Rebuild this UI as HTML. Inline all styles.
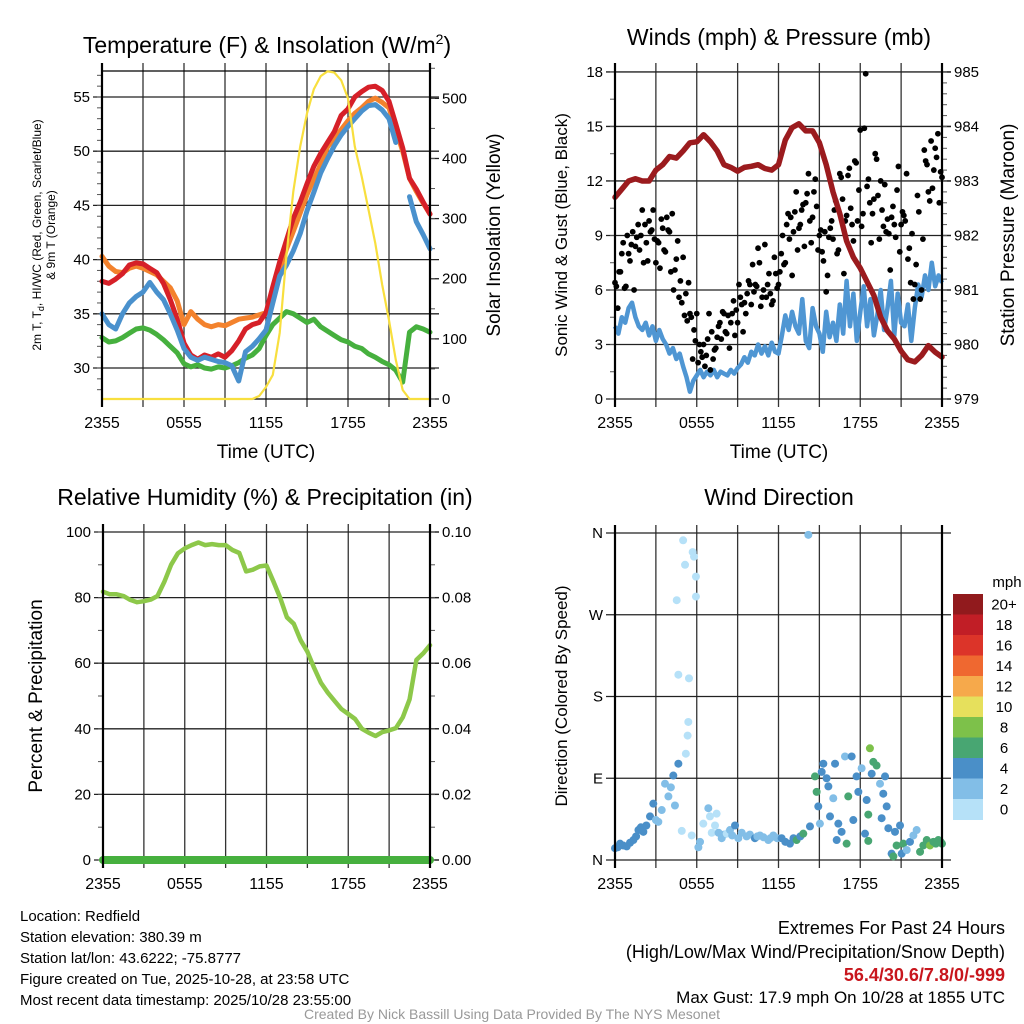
<!DOCTYPE html>
<html><head><meta charset="utf-8">
<style>
body{margin:0;background:#fff;}
svg{display:block;font-family:"Liberation Sans",sans-serif;}
</style></head>
<body>
<svg id="root" width="1024" height="1024" viewBox="0 0 1024 1024" xmlns="http://www.w3.org/2000/svg">
<rect width="1024" height="1024" fill="#fff"/>
<g id="g1"></g>
<g id="g2"></g>
<g id="g3"></g>
<g id="g4"></g>
<text x="267" y="53" font-size="23" text-anchor="middle">Temperature (F) &amp; Insolation (W/m<tspan font-size="14" dy="-9">2</tspan><tspan dy="9">)</tspan></text>
<text x="779" y="45" font-size="23" text-anchor="middle">Winds (mph) &amp; Pressure (mb)</text>
<text x="265" y="505" font-size="23" text-anchor="middle">Relative Humidity (%) &amp; Precipitation (in)</text>
<text x="779" y="505" font-size="23" text-anchor="middle">Wind Direction</text>
<text transform="translate(41,235) rotate(-90)" font-size="12" text-anchor="middle">2m T, T<tspan font-size="9" dy="3">d</tspan><tspan dy="-3">, HI/WC (Red, Green, Scarlet/Blue)</tspan></text>
<text transform="translate(55,235) rotate(-90)" font-size="12" text-anchor="middle">&amp; 9m T (Orange)</text>
<text transform="translate(500,235) rotate(-90)" font-size="19" text-anchor="middle">Solar Insolation (Yellow)</text>
<text transform="translate(567,235) rotate(-90)" font-size="17" text-anchor="middle">Sonic Wind &amp; Gust (Blue, Black)</text>
<text transform="translate(1014,235) rotate(-90)" font-size="19" text-anchor="middle">Station Pressure (Maroon)</text>
<text transform="translate(42,696) rotate(-90)" font-size="19" text-anchor="middle">Percent &amp; Precipitation</text>
<text transform="translate(567,696) rotate(-90)" font-size="17" text-anchor="middle">Direction (Colored By Speed)</text>
<text x="266" y="458" font-size="19" text-anchor="middle">Time (UTC)</text>
<text x="779" y="458" font-size="19" text-anchor="middle">Time (UTC)</text>
<g font-size="15">
<text x="20" y="921">Location: Redfield</text>
<text x="20" y="942">Station elevation: 380.39 m</text>
<text x="20" y="963">Station lat/lon: 43.6222; -75.8777</text>
<text x="20" y="984">Figure created on Tue, 2025-10-28, at 23:58 UTC</text>
<text x="20" y="1005">Most recent data timestamp: 2025/10/28 23:55:00</text>
</g>
<g font-size="18" text-anchor="end">
<text x="1005" y="934">Extremes For Past 24 Hours</text>
<text x="1005" y="958">(High/Low/Max Wind/Precipitation/Snow Depth)</text>
<text x="1005" y="981" fill="#c8161d" font-weight="bold">56.4/30.6/7.8/0/-999</text>
<text x="1005" y="1003" font-size="17">Max Gust: 17.9 mph On 10/28 at 1855 UTC</text>
</g>
<text x="512" y="1019" font-size="14" fill="#999" text-anchor="middle">Created By Nick Bassill Using Data Provided By The NYS Mesonet</text>
</svg>
<script>
// ---------- data ----------
const halfHours = [0,0.5,1,1.5,2,2.5,3,3.5,4,4.5,5,5.5,6,6.5,7,7.5,8,8.5,9,9.5,10,10.5,11,11.5,12,12.5,13,13.5,14,14.5,15,15.5,16,16.5,17,17.5,18,18.5,19,19.5,20,20.5,21,21.5,22,22.5,23,23.5,24];
const timeTickLabels = ["2355","0555","1155","1755","2355"];
const heatIndex = [38.0,37.8,38.2,38.7,39.5,39.7,39.6,39.2,38.8,37.8,36.3,34.5,32.3,31.2,30.8,31.2,31.0,31.3,31.0,31.6,32.5,33.6,34.0,34.2,35.1,37.5,39.8,41.8,43.8,45.3,47.0,48.6,49.8,50.8,51.8,53.3,53.9,55.0,55.5,55.9,56.0,55.6,54.6,52.5,50.3,47.5,46.5,45.3,44.2];
const temp9m = [40.3,39.4,38.9,38.8,39.2,39.4,39.2,38.9,38.6,38.0,37.4,36.2,34.0,35.2,34.5,34.0,33.8,34.0,33.9,34.2,34.5,34.6,34.7,34.9,35.1,37.0,39.0,41.0,42.6,44.3,46.0,47.4,48.8,50.4,51.2,52.0,52.8,53.5,54.0,54.6,54.9,54.5,54.0,52.0,50.0,47.5,46.3,45.2,44.2];
const temp2m = [35.0,34.0,33.6,35.0,36.0,36.6,37.0,37.9,37.0,36.3,35.0,33.5,31.8,31.0,30.7,31.0,30.8,30.6,30.5,30.2,28.8,31.5,32.0,32.7,33.5,36.0,38.5,39.5,40.8,42.4,44.5,46.2,48.0,49.3,50.5,51.5,52.3,53.0,53.7,54.2,54.3,53.8,53.0,50.8,null,45.8,43.5,42.3,41.0];
const dewpoint = [32.8,32.4,32.5,32.8,33.2,33.6,33.7,33.5,33.1,32.6,32.0,31.4,30.4,30.1,30.3,30.0,29.9,30.1,30.0,30.2,30.5,30.9,31.2,31.8,33.0,34.0,34.6,35.2,35.0,34.6,34.2,34.5,33.8,33.4,33.0,32.6,32.4,32.0,31.8,31.3,31.0,30.6,30.3,29.8,28.7,33.3,33.8,33.6,33.3];
const solar = [0,0,0,0,0,0,0,0,0,0,0,0,0,0,0,0,0,0,0,0,0,0,0,5,20,40,110,240,345,420,475,515,537,545,543,530,500,420,370,315,259,190,131,65,15,0,0,0,0];
const tempTicks = [30,35,40,45,50,55];
const solarTicks = [0,100,200,300,400,500];

const pressure = [982.7,982.85,983.0,983.04,983.0,983.0,983.2,983.3,983.45,983.42,983.55,983.7,983.72,983.85,983.72,983.55,983.3,983.25,983.18,983.25,983.27,983.3,983.23,983.2,983.3,983.75,983.98,984.05,983.92,983.92,983.7,983.3,982.8,982.4,981.9,981.6,981.4,981.15,980.9,980.5,980.25,980.1,979.88,979.72,979.68,979.8,979.98,979.86,979.77];
const windSpeed = [4.0,3.6,4.5,4.2,5.0,5.3,4.5,4.0,3.8,4.2,
3.5,4.0,3.2,3.8,3.3,3.0,2.5,2.8,2.2,2.5,1.8,
1.2,0.4,1.0,1.3,1.6,1.2,1.5,1.3,1.6,1.2,1.5,1.4,
1.3,1.6,1.4,1.7,1.9,2.3,2.0,2.6,2.4,3.0,2.5,2.9,2.4,3.1,2.6,2.5,
3.5,4.6,3.8,4.8,4.0,3.6,5.5,3.2,2.8,5.0,4.0,3.6,2.6,4.8,3.4,4.2,
3.2,5.2,3.6,6.5,4.0,5.8,3.2,4.8,6.2,4.0,5.5,3.5,4.6,6.0,3.8,5.0,
6.5,3.5,5.8,4.2,4.0,5.2,3.2,5.0,6.3,5.6,6.8,6.0,7.5,6.2,6.8,6.4];
const gustA = [6.4,5.0,7.0,8.6,6.2,8.0,8.5,6.0,8.9,8.2,10.4,9.6,7.6,9.2,10.4,7.5,8.6,9.9,8.2,10.0,9.2,10.2,7.1,8.7,6.5,7.8,5.8,6.4,4.5,3.8,4.7,3.0,2.3,1.8,3.3,1.6,2.2,2.8,4.0,3.3,4.7,3.6,2.8,4.7,3.5,4.2,5.6,3.7,4.7,6.5,5.2,5.9,6.2,7.5,5.6,8.5,6.3,5.8,5.4,6.9,6.3,8.0,7.4,9.6,8.8,6.8,10.3,8.2,9.6,10.7,10.8,12.4,8.6,11.4,10.6,9.0,8.1,9.2,6.8,9.4,8.8,10.9,8.2,12.2,6.9,10.1,12.7,9.6,13.1,9.8,14.8,10.2,17.9,12.1,8.6,11.0,13.2,8.8,10.4,11.8,9.9,7.1,10.6,8.9,12.8,9.6,10.1,12.4,8.3,9.1,6.3,11.2,5.5,8.8,13.1,11.4,14.2,12.6,13.3,10.8,12.2];
const gustB = [6.2,7.0,8.0,6.1,9.0,7.6,9.2,8.4,9.6,9.0,7.5,8.6,9.8,9.3,8.8,8.7,7.2,9.4,8.1,9.3,7.0,6.0,7.7,5.6,5.3,4.6,4.3,4.7,2.2,3.2,2.0,2.6,3.0,2.4,4.7,3.7,2.7,3.4,4.2,4.8,3.7,4.6,4.2,5.4,4.9,6.3,5.2,5.3,5.8,6.3,7.4,6.3,8.3,5.1,6.0,5.6,6.9,5.2,7.8,6.1,7.0,9.0,7.5,10.2,10.0,9.2,11.4,9.4,10.4,8.4,11.3,9.8,10.0,12.1,8.2,9.3,7.6,5.9,8.9,9.8,10.4,8.0,12.4,11.0,9.8,12.3,10.5,8.7,13.0,11.5,9.5,14.9,11.7,10.8,10.2,13.5,11.2,12.0,9.5,9.2,9.1,10.0,9.6,11.5,8.1,10.3,9.8,7.7,6.4,5.5,7.4,10.3,6.0,13.7,12.9,10.9,11.6,13.8,14.6,12.5];
const windTicks = [0,3,6,9,12,15,18];
const pressureTicks = [979,980,981,982,983,984,985];

const humidity = [81.8,81.0,81.0,80.5,79.3,78.6,78.9,79.4,80.5,84.8,90.0,93.5,95.0,96.0,96.8,96.0,96.3,96.0,96.0,94.5,93.6,88.0,88.5,89.5,89.8,85.0,80.0,74.0,72.0,67.0,63.5,58.5,54.0,51.0,48.5,46.0,44.5,43.0,40.0,38.8,37.8,39.0,39.5,40.2,43.5,49.0,61.0,63.0,65.5];
const precip = [0,0,0,0,0,0,0,0,0,0,0,0,0,0,0,0,0,0,0,0,0,0,0,0,0,0,0,0,0,0,0,0,0,0,0,0,0,0,0,0,0,0,0,0,0,0,0,0,0];
const rhTicks = [0,20,40,60,80,100];
const precipTicks = ["0.00","0.02","0.04","0.06","0.08","0.10"];

const dirTimes = [0,0.2,0.37,0.6,0.86,1.1,1.35,1.55,1.72,1.9,2.08,2.3,2.57,2.81,3.0,3.18,3.43,3.67,3.92,4.1,4.28,4.4,4.53,4.65,4.65,4.9,5.0,5.14,5.2,5.33,5.38,5.43,5.63,5.7,5.8,5.94,5.94,6.12,6.24,6.48,6.85,6.97,7.1,7.34,7.46,7.6,7.83,8.0,8.2,8.44,8.6,8.81,9.05,9.3,9.66,9.9,10.27,10.45,10.64,10.9,11.25,11.4,11.62,11.9,12.23,12.5,12.84,13.1,13.33,13.6,13.82,14.19,14.31,14.68,14.8,14.92,15.04,15.17,15.29,15.53,15.66,15.78,16.02,16.15,16.27,16.39,16.63,16.88,17.0,17.12,17.37,17.49,17.73,17.86,18.1,18.35,18.47,18.59,18.59,18.71,18.84,18.96,19.2,19.45,19.57,19.69,19.82,19.94,20.06,20.3,20.43,20.55,20.67,20.92,21.04,21.16,21.41,21.65,21.9,22.14,22.39,22.63,22.88,23.12,23.37,23.55,23.73,23.9,24.0];
const dirDegrees = [13,14,18,16,15,19,22,26,33,36,31,38,48,62,44,42,55,84,70,80,93,60,286,106,204,32,352,325,117,137,152,200,27,339,334,312,290,14,20,40,57,48,30,38,51,30,24,28,29,33,27,38,24,30,26,28,24,26,27,25,22,24,27,24,24,20,18,24,22,26,29,358,37,92,75,59,40,97,106,90,81,48,68,106,22,40,31,114,18,70,114,44,92,75,101,29,66,50,21,123,95,108,104,84,46,73,92,59,35,7,4,31,16,38,7,18,11,20,27,33,9,16,22,16,20,18,22,20,18];
const dirSpeeds = [4,4,4,4,4,4,4,4,4,4,4,4,4,4,2,2,2,2,2,2,4,2,0,4,0,0,0,0,0,0,0,0,0,0,0,0,0,2,2,0,2,0,0,0,0,2,2,2,0,2,2,4,2,2,2,2,4,2,2,2,2,2,2,2,4,4,4,4,6,4,6,2,4,6,6,4,2,4,4,4,4,4,2,4,4,4,4,2,6,6,4,4,4,4,2,4,4,6,6,8,4,6,6,2,4,4,4,4,4,4,6,4,6,4,4,6,2,4,2,2,6,6,6,8,6,6,6,6,6];
const dirTickLabels = ["N","E","S","W","N"];
const speedBins = ["0","2","4","6","8","10","12","14","16","18","20+"];
const speedColors = ["#b6e1f8","#82bee7","#4a8fc8","#48a672","#7dc14a","#e6e05c","#f6a94b","#ef6830","#dc3429","#c11e26","#911a1d"];

// ---------- helpers ----------
const NS = "http://www.w3.org/2000/svg";
function el(tag, parent, attrs) {
  const e = document.createElementNS(NS, tag);
  for (const k in attrs) e.setAttribute(k, attrs[k]);
  parent.appendChild(e);
  return e;
}
function xScale(P, h) { return P.x0 + h / 24 * (P.x1 - P.x0); }
function linePath(P, times, vals, yf) {
  let d = "", pen = false;
  for (let i = 0; i < times.length; i++) {
    const v = vals[i];
    if (v === null) { pen = false; continue; }
    d += (pen ? "L" : "M") + xScale(P, times[i]).toFixed(1) + " " + yf(v).toFixed(1);
    pen = true;
  }
  return d;
}
function frame(g, P, leftTicks, leftY, leftLabels, rightTicks, rightY, rightLabels, leftMinor, rightMinor) {
  for (let h = 3; h < 24; h += 3) {
    const l = el("line", g, {x1: xScale(P,h), x2: xScale(P,h), y1: P.y0 - 8, y2: P.y1 + 8, stroke: "#333", "stroke-width": 1.3});
    
    
  }
  for (let i = 0; i < leftTicks.length; i++) {
    const y = leftY(leftTicks[i]);
    const l = el("line", g, {x1: P.x0 - 9, x2: P.x1 + 9, y1: y, y2: y, stroke: "#222", "stroke-width": 1.3});
    
    
    if (leftLabels) {
      const t = el("text", g, {x: P.x0 - 12, y: y + 5, "font-size": 15, "text-anchor": "end"});
      t.textContent = leftLabels[i];
      
      
    }
  }
  (leftMinor || []).forEach(v => {
    const y = leftY(v);
    el("line", g, {x1: P.x0 - 5, x2: P.x0, y1: y, y2: y, stroke: "#555", "stroke-width": 1});
  });
  if (rightTicks) {
    for (let i = 0; i < rightTicks.length; i++) {
      const y = rightY(rightTicks[i]);
      el("line", g, {x1: P.x1, x2: P.x1 + 9, y1: y, y2: y, stroke: "#222", "stroke-width": 1.3});
      const t = el("text", g, {x: P.x1 + 12, y: y + 5, "font-size": 15});
      t.textContent = rightLabels[i];
      
      
    }
    (rightMinor || []).forEach(v => {
      const y = rightY(v);
      el("line", g, {x1: P.x1, x2: P.x1 + 5, y1: y, y2: y, stroke: "#555", "stroke-width": 1});
    });
  }
  for (let i = 0; i < timeTickLabels.length; i++) {
    const x = xScale(P, i * 6);
    const t = el("text", g, {x: x, y: P.y1 + 29, "font-size": 16, "text-anchor": "middle"});
    t.textContent = timeTickLabels[i];
    
    
  }
}
function borders(g, P) {
  const l = el("line", g, {x1: P.x0, x2: P.x0, y1: P.y0 - 8, y2: P.y1 + 8, stroke: "#000", "stroke-width": 2.2});
  
  
  const r = el("line", g, {x1: P.x1, x2: P.x1, y1: P.y0 - 8, y2: P.y1 + 8, stroke: "#000", "stroke-width": 2.2});
  
  
}
function range(a, b, s) { const r = []; for (let v = a; v <= b + 1e-9; v += s) r.push(+v.toFixed(4)); return r; }

// ---------- panel 1 ----------
(function(){
  const g = document.getElementById("g1");
  const P = {x0:102, x1:430, y0:71, y1:399};
  const yT = v => 368 - (v - 30) * 10.84;
  const yS = v => 399 - v * 0.6013;
  frame(g, P, tempTicks, yT, tempTicks.map(String), solarTicks, yS, solarTicks.map(String), range(28,57,1), range(0,550,50));
  el("line", g, {x1:P.x0, x2:P.x1, y1:P.y0, y2:P.y0, stroke:"#000","stroke-width":1.3});
  el("line", g, {x1:P.x0, x2:P.x1, y1:P.y1, y2:P.y1, stroke:"#000","stroke-width":1.3});
  const s = [["dewpoint-line", dewpoint, "#46b03e"],["temp-9m-line", temp9m, "#f3822d"],["heat-index-line", heatIndex, "#d62028"],["temp-2m-line", temp2m, "#4a91cd"]];
  s.forEach(([n, arr, c]) => {
    const p = el("path", g, {d: linePath(P, halfHours, arr, yT), fill:"none", stroke:c, "stroke-width":5, "stroke-linejoin":"round","stroke-linecap":"round"});
    
    
  });
  const sp = el("path", g, {d: linePath(P, halfHours, solar, yS), fill:"none", stroke:"#f8df3e", "stroke-width":2.2, "stroke-linejoin":"round"});
  
  
  borders(g, P);
})();

// ---------- panel 2 ----------
(function(){
  const g = document.getElementById("g2");
  const P = {x0:615, x1:942, y0:71, y1:399};
  const yW = v => 399 - v * 18.17;
  const yP = v => 399 - (v - 979) * 54.5;
  frame(g, P, windTicks, yW, windTicks.map(String), pressureTicks, yP, pressureTicks.map(String), range(0,18,1.5), range(979,985,0.2));
  const wt = windSpeed.map((_, i) => i * 0.25);
  const wp = el("path", g, {d: linePath(P, wt, windSpeed, yW), fill:"none", stroke:"#4f96d3", "stroke-width":4.5, "stroke-linejoin":"round"});
  
  
  gustA.forEach((v, i) => {
    const c = el("circle", g, {cx: xScale(P, i * 0.2), cy: yW(v), r: 2.9, fill:"#000"});
    
    
  });
  gustB.forEach((v, i) => {
    const c = el("circle", g, {cx: xScale(P, 0.1 + i * 0.2), cy: yW(v), r: 2.9, fill:"#000"});
    
    
  });
  const pp = el("path", g, {d: linePath(P, halfHours, pressure, yP), fill:"none", stroke:"#9b1b1e", "stroke-width":5.5, "stroke-linejoin":"round","stroke-linecap":"round"});
  
  
  borders(g, P);
})();

// ---------- panel 3 ----------
(function(){
  const g = document.getElementById("g3");
  const P = {x0:103, x1:430, y0:532, y1:860};
  const yR = v => 860 - v * 3.28;
  const yPr = v => 860 - v * 3280;
  frame(g, P, rhTicks, yR, rhTicks.map(String), precipTicks.map(Number), yPr, precipTicks, range(0,100,10), range(0,0.1,0.01));
  const rp = el("path", g, {d: linePath(P, halfHours, humidity, yR), fill:"none", stroke:"#8dc84a", "stroke-width":4.5, "stroke-linejoin":"round","stroke-linecap":"round"});
  
  
  const pr = el("path", g, {d: linePath(P, halfHours, precip, yPr), fill:"none", stroke:"#46b03e", "stroke-width":8, "stroke-linecap":"round"});
  
  
  borders(g, P);
})();

// ---------- panel 4 ----------
(function(){
  const g = document.getElementById("g4");
  const P = {x0:615, x1:942, y0:533, y1:860};
  const yD = v => 860 - v * 0.9083;
  frame(g, P, [0,90,180,270,360], yD, dirTickLabels, null, null, null, [], []);
  dirTimes.forEach((t, i) => {
    const c = el("circle", g, {cx: xScale(P, dirTimes[i]), cy: yD(dirDegrees[i]), r: 4, fill: speedColors[Math.min(10, Math.floor(dirSpeeds[i] / 2))]});
    
    
  });
  borders(g, P);
  const cb = el("g", g, {});
  
  
  const bx = 953, by = 594, bh = 20.5;
  for (let i = 0; i < speedBins.length; i++) {
    const k = speedBins.length - 1 - i;
    const r = el("rect", cb, {x: bx, y: by + i * bh, width: 30, height: bh + 0.5, fill: speedColors[k]});
    
    
    const t = el("text", cb, {x: 1004, y: by + i * bh + bh / 2 + 5, "font-size": 15, "text-anchor": "middle"});
    t.textContent = speedBins[k];
    
    
  }
  const u = el("text", cb, {x: 1007, y: 587, "font-size": 15, "text-anchor": "middle"});
  u.textContent = "mph";
  
  
})();
</script>
</body></html>
